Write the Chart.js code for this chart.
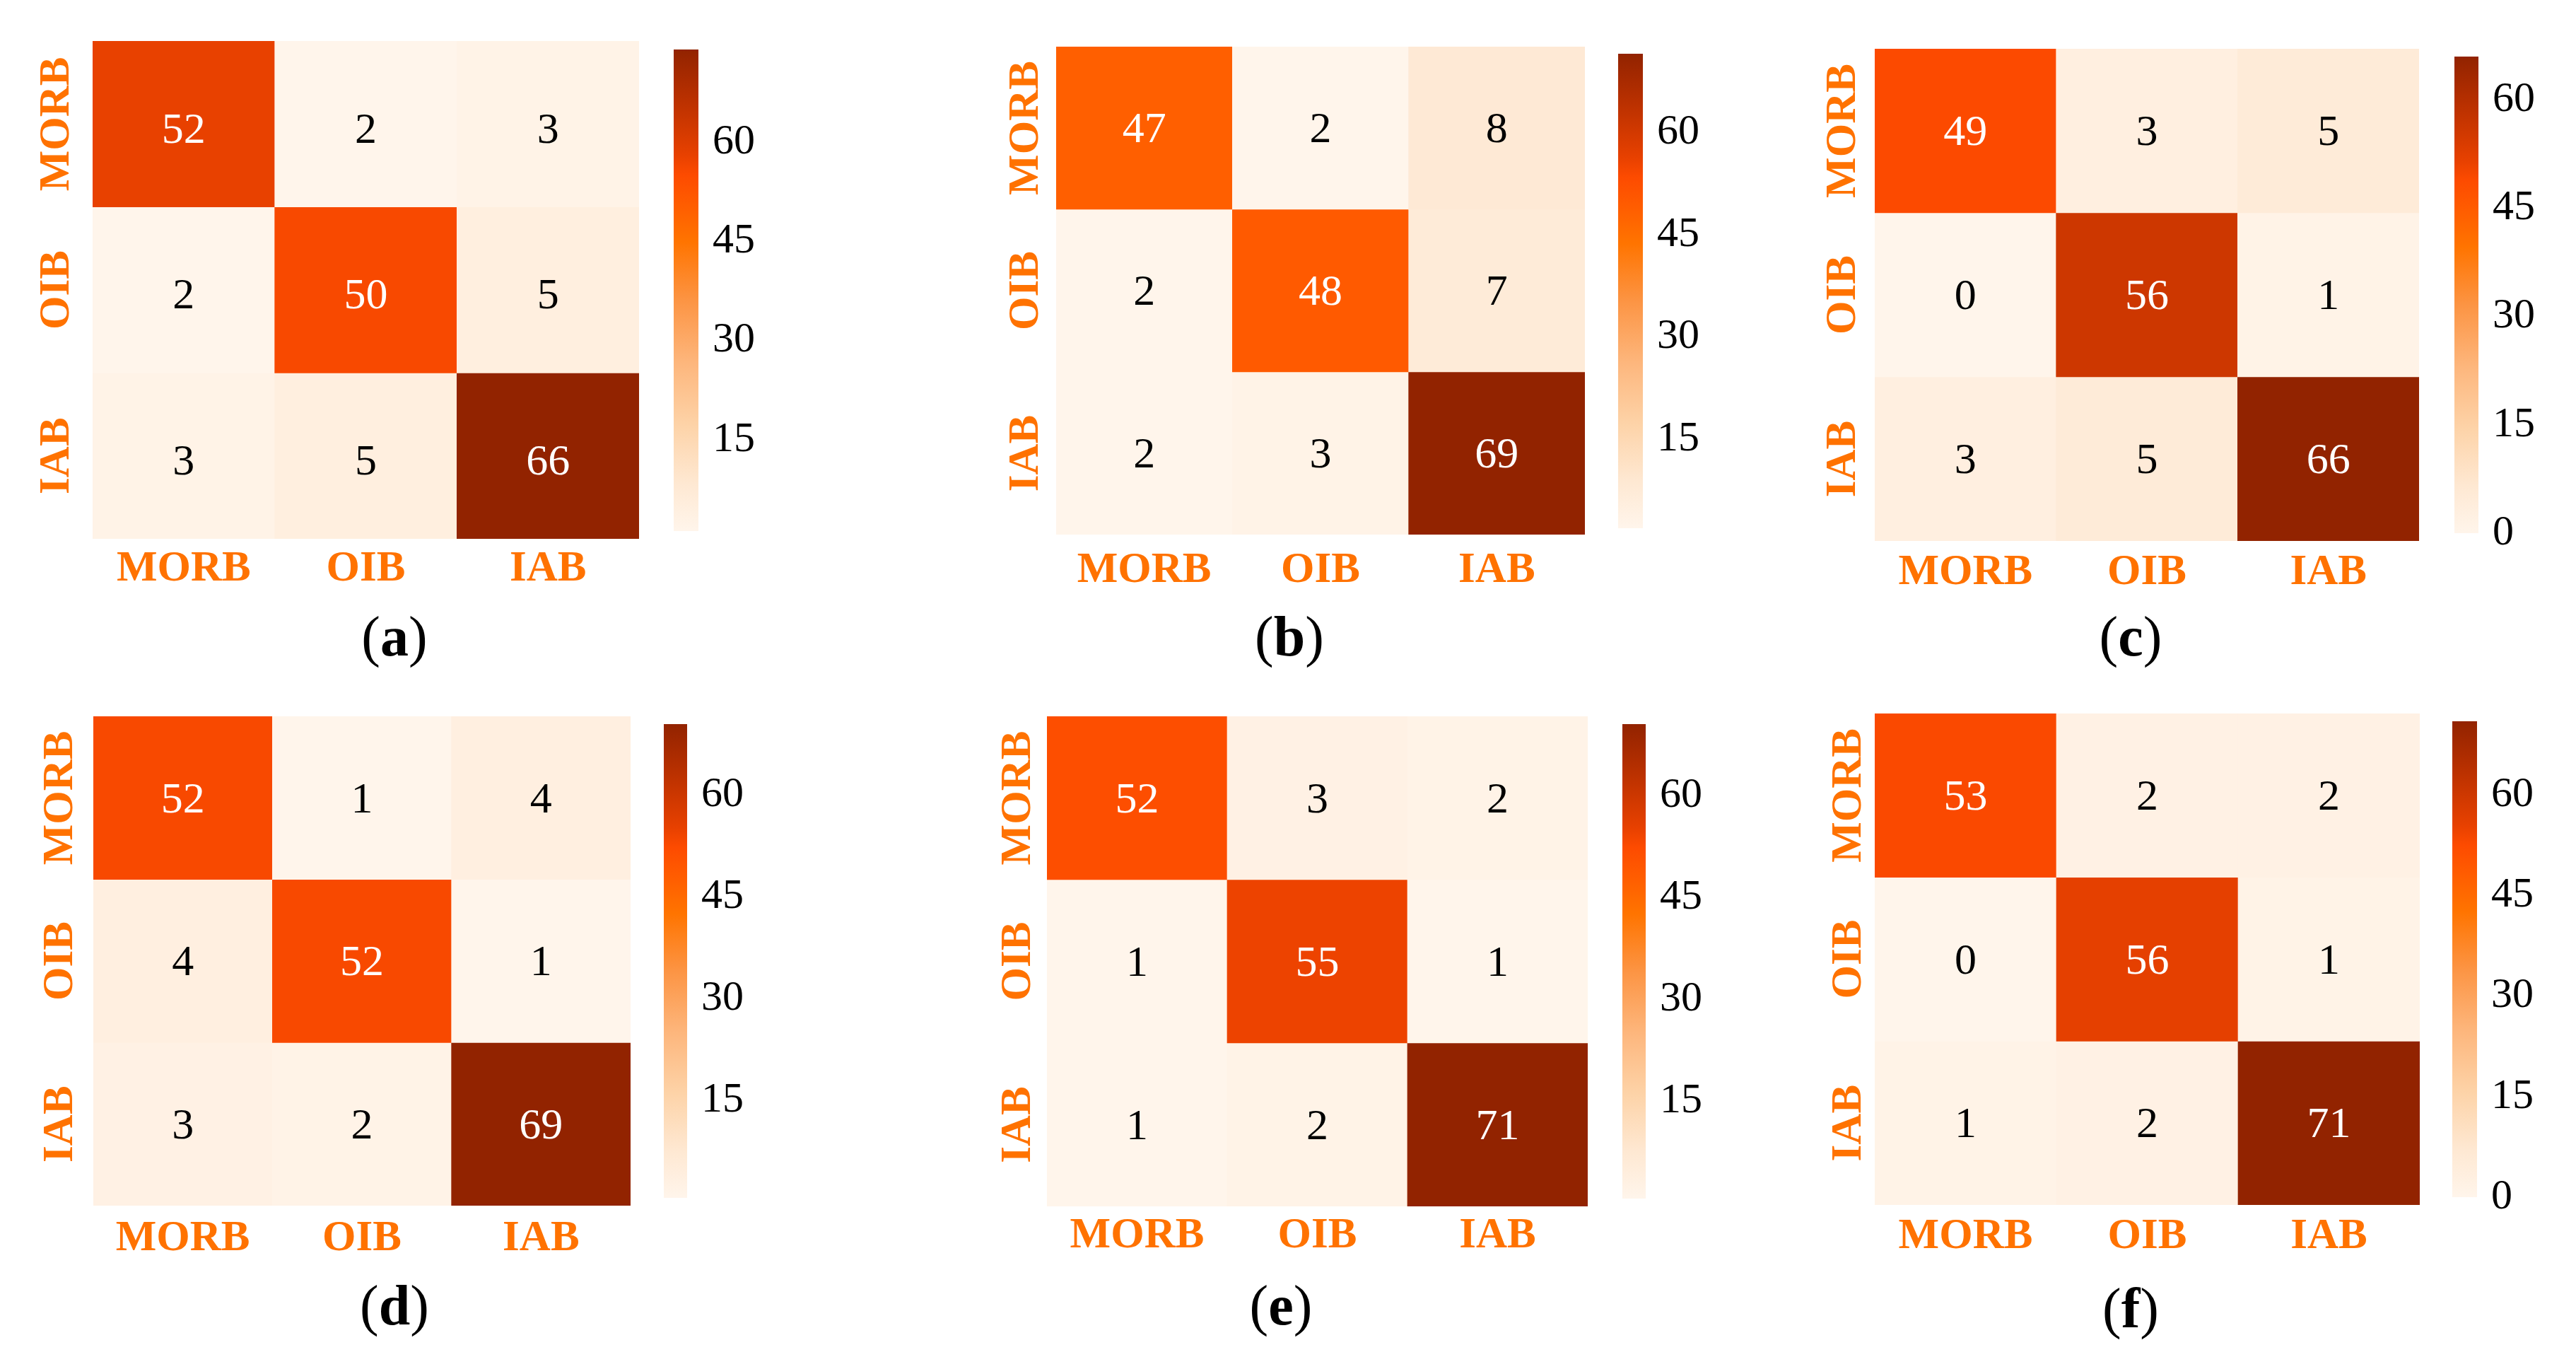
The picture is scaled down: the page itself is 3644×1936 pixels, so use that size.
<!DOCTYPE html>
<html>
<head>
<meta charset="utf-8">
<script src="https://cdn.jsdelivr.net/npm/chart.js@4.4.1/dist/chart.umd.min.js"></script>
<style>
  body { margin: 0; background: #fff; width: 3644px; height: 1936px; position: relative; overflow: hidden; }
  canvas { position: absolute; }
  .cap { position: absolute; font: 80px "Liberation Serif", serif; color: #000; transform: translate(-50%, -50%); white-space: nowrap; }
</style>
</head>
<body>
<script>
// ---- data ----
var categories = ["MORB", "OIB", "IAB"];
var panelLetters = ["a", "b", "c", "d", "e", "f"];

var matrixA = [[52, 2, 3], [2, 50, 5], [3, 5, 66]];
var matrixB = [[47, 2, 8], [2, 48, 7], [2, 3, 69]];
var matrixC = [[49, 3, 5], [0, 56, 1], [3, 5, 66]];
var matrixD = [[52, 1, 4], [4, 52, 1], [3, 2, 69]];
var matrixE = [[52, 3, 2], [1, 55, 1], [1, 2, 71]];
var matrixF = [[53, 2, 2], [0, 56, 1], [1, 2, 71]];
var matrices = [matrixA, matrixB, matrixC, matrixD, matrixE, matrixF];

var colorbarTicks = [0, 15, 30, 45, 60];
var colorbarMin = [1.2, 2, 0, 0.6, 0.6, 0];
var colorbarMax = [74, 71.5, 66, 70.5, 70.5, 71];

// ---- layout (pixels) ----
var boxes = [
  { heat: [131, 58, 773, 704], cbar: [953, 59, 35, 703], rowGap: 50, colGap: 44, textDy: 10, cap: [558, 900] },
  { heat: [1494, 66, 748, 690], cbar: [2289, 65, 35, 693], rowGap: 42, colGap: 52, textDy: 4, cap: [1824, 900] },
  { heat: [2652, 69, 770, 696], cbar: [3472, 69, 34, 696], rowGap: 44, colGap: 46, textDy: 4, cap: [3014, 900] },
  { heat: [132, 1013, 760, 692], cbar: [939, 1013, 33, 692], rowGap: 46, colGap: 48, textDy: 4, cap: [558, 1846] },
  { heat: [1481, 1013, 765, 693], cbar: [2295, 1013, 33, 693], rowGap: 40, colGap: 43, textDy: 4, cap: [1812, 1846] },
  { heat: [2652, 1009, 771, 695], cbar: [3469, 1009, 35, 695], rowGap: 36, colGap: 46, textDy: 4, cap: [3014, 1850] }
];

var labelOrange = "#ff7200";
var serif = "'Liberation Serif', serif";
Chart.defaults.font.family = serif;

var cmapStops = [
  [0.00, "#fff5eb"], [0.10, "#fee8d2"], [0.22, "#fdd3a8"], [0.35, "#fdb67c"],
  [0.48, "#fc9443"], [0.60, "#ff7400"], [0.68, "#ff5c00"], [0.74, "#fd4b00"],
  [0.78, "#e84100"], [0.85, "#cc3700"], [0.93, "#ad2c00"], [1.00, "#922300"]
];

function hexRgb(h) {
  return [parseInt(h.substr(1, 2), 16), parseInt(h.substr(3, 2), 16), parseInt(h.substr(5, 2), 16)];
}
function cmapRgb(t) {
  t = Math.max(0, Math.min(1, t));
  for (var i = 1; i < cmapStops.length; i++) {
    if (t <= cmapStops[i][0]) {
      var a = cmapStops[i - 1], b = cmapStops[i];
      var f = (t - a[0]) / (b[0] - a[0]);
      var ca = hexRgb(a[1]), cb = hexRgb(b[1]);
      return ca.map(function (v, k) { return Math.round(v + (cb[k] - v) * f); });
    }
  }
  return hexRgb(cmapStops[cmapStops.length - 1][1]);
}
function rgbStr(c) { return "rgb(" + c.join(",") + ")"; }
function luminance(c) {
  var l = c.map(function (v) { v /= 255; return v <= 0.03928 ? v / 12.92 : Math.pow((v + 0.055) / 1.055, 2.4); });
  return 0.2126 * l[0] + 0.7152 * l[1] + 0.0722 * l[2];
}

function makeCanvas(x, y, w, h) {
  var c = document.createElement("canvas");
  c.width = w; c.height = h;
  c.style.left = x + "px"; c.style.top = y + "px";
  c.style.width = w + "px"; c.style.height = h + "px";
  document.body.appendChild(c);
  return c;
}

// cell numbers + rotated row labels
var heatText = {
  id: "heatText",
  afterDatasetsDraw: function (chart, args, opts) {
    var ctx = chart.ctx;
    ctx.save();
    ctx.font = "62px " + serif;
    ctx.textAlign = "center";
    ctx.textBaseline = "middle";
    chart.data.datasets.forEach(function (ds, di) {
      chart.getDatasetMeta(di).data.forEach(function (el, j) {
        var v = ds.values[j];
        ctx.fillStyle = luminance(ds.rgbs[j]) < 0.408 ? "#fff" : "#000";
        ctx.fillText(String(v), el.x, (el.y + el.base) / 2 + opts.dy);
      });
    });
    var yS = chart.scales.y;
    ctx.font = "bold 61px " + serif;
    ctx.fillStyle = labelOrange;
    categories.forEach(function (lab, r) {
      ctx.save();
      ctx.translate(chart.chartArea.left - opts.gap, yS.getPixelForValue(r + 0.5));
      ctx.rotate(-Math.PI / 2);
      ctx.fillText(lab, 0, 0);
      ctx.restore();
    });
    ctx.restore();
  }
};

matrices.forEach(function (m, p) {
  var b = boxes[p];
  var flat = [].concat.apply([], m);
  var vmin = Math.min.apply(null, flat), vmax = Math.max.apply(null, flat);

  var padL = 120, padT = 10, padR = 10, padB = 110;
  var hc = makeCanvas(b.heat[0] - padL, b.heat[1] - padT, b.heat[2] + padL + padR, b.heat[3] + padT + padB);

  var datasets = m.map(function (row, r) {
    var rgbs = row.map(function (v) { return cmapRgb((v - vmin) / (vmax - vmin)); });
    return {
      data: row.map(function () { return [r, r + 1]; }),
      values: row,
      rgbs: rgbs,
      backgroundColor: rgbs.map(rgbStr),
      borderWidth: 0,
      grouped: false,
      barPercentage: 1,
      categoryPercentage: 1
    };
  });

  new Chart(hc.getContext("2d"), {
    type: "bar",
    data: { labels: categories, datasets: datasets },
    options: {
      responsive: false,
      animation: false,
      devicePixelRatio: 1,
      layout: { padding: { left: 0, top: padT, right: padR, bottom: 0 } },
      plugins: { legend: { display: false }, tooltip: { enabled: false }, heatText: { gap: b.rowGap, dy: b.textDy } },
      scales: {
        x: {
          grid: { display: false, drawTicks: false },
          border: { display: false },
          ticks: { color: labelOrange, font: { size: 61, weight: "bold" }, padding: b.colGap - 37 },
          afterFit: function (s) { s.height = padB; }
        },
        y: {
          min: 0, max: 3, reverse: true,
          grid: { display: false, drawTicks: false },
          border: { display: false },
          ticks: { display: false },
          afterFit: function (s) { s.width = padL; }
        }
      }
    },
    plugins: [heatText]
  });

  // colour bar
  var cbW = 160, cbPad = 45;
  var cc = makeCanvas(b.cbar[0], b.cbar[1] - cbPad, b.cbar[2] + cbW, b.cbar[3] + 2 * cbPad);
  var lo = colorbarMin[p], hi = colorbarMax[p];
  new Chart(cc.getContext("2d"), {
    type: "bar",
    data: {
      labels: [""],
      datasets: [{
        data: [[lo, hi]],
        borderWidth: 0,
        barPercentage: 1,
        categoryPercentage: 1,
        backgroundColor: function (ctx) {
          var area = ctx.chart.chartArea;
          if (!area) return "#fff";
          var g = ctx.chart.ctx.createLinearGradient(0, area.bottom, 0, area.top);
          cmapStops.forEach(function (s) { g.addColorStop(s[0], s[1]); });
          return g;
        }
      }]
    },
    options: {
      responsive: false,
      animation: false,
      devicePixelRatio: 1,
      layout: { padding: { left: 0, top: cbPad, right: 0, bottom: cbPad } },
      plugins: { legend: { display: false }, tooltip: { enabled: false } },
      scales: {
        x: { display: false },
        y: {
          position: "right",
          min: lo, max: hi,
          grid: { display: false, drawTicks: false },
          border: { display: false },
          ticks: { color: "#000", font: { size: 60 }, padding: 20 },
          afterBuildTicks: function (s) {
            s.ticks = colorbarTicks.filter(function (v) { return v >= lo && v <= hi; })
              .map(function (v) { return { value: v }; });
          },
          afterFit: function (s) { s.width = cbW; }
        }
      }
    }
  });

  var cap = document.createElement("div");
  cap.className = "cap";
  cap.style.left = b.cap[0] + "px";
  cap.style.top = b.cap[1] + "px";
  cap.innerHTML = "(<b>" + panelLetters[p] + "</b>)";
  document.body.appendChild(cap);
});
</script>
</body>
</html>
